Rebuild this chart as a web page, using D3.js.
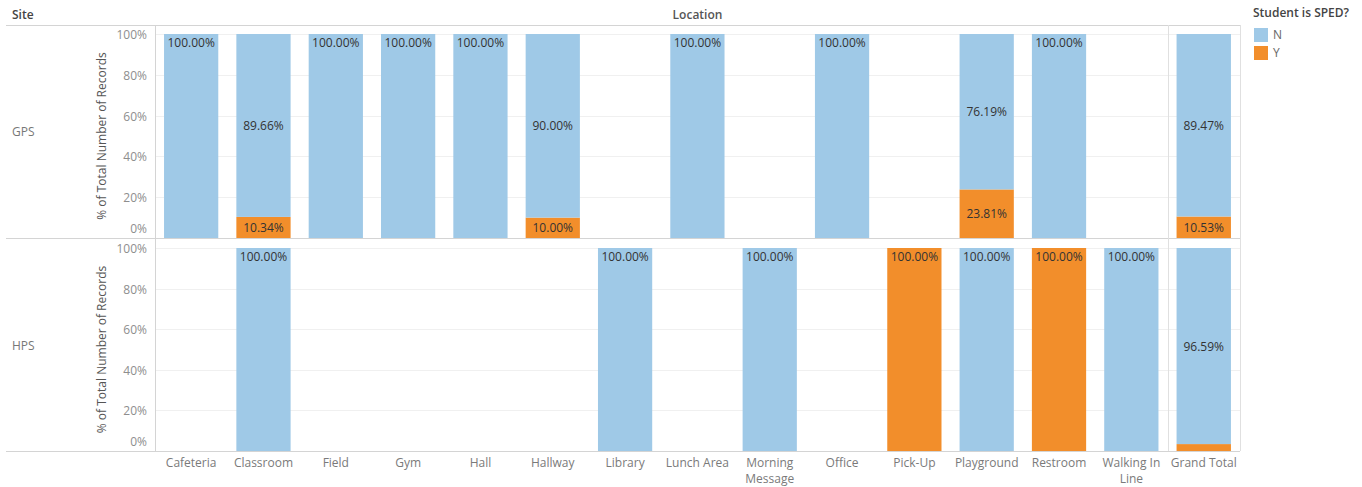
<!DOCTYPE html>
<html>
<head>
<meta charset="utf-8">
<script src="https://cdn.jsdelivr.net/npm/d3@7/dist/d3.min.js"></script>
<style>
  body { margin: 0; background: #fff; }
  svg text { font-family: "Open Sans", "Noto Sans", sans-serif; }
</style>
</head>
<body>
<svg id="chart" width="1362" height="487"></svg>
<script>
// Locations along the x axis, with the grand total column at the end
const locations = ["Cafeteria", "Classroom", "Field", "Gym", "Hall", "Hallway", "Library",
  "Lunch Area", "Morning Message", "Office", "Pick-Up", "Playground", "Restroom", "Walking In Line"];
const totalLabel = "Grand Total";
const sites = ["GPS", "HPS"];
const spedKeys = ["N", "Y"];

// Percent of records per location (null = no records)
const gpsN = [100, 89.66, 100, 100, 100, 90.00, null, 100, null, 100, null, 76.19, 100, null];
const gpsY = [null, 10.34, null, null, null, 10.00, null, null, null, null, null, 23.81, null, null];
const hpsN = [null, 100, null, null, null, null, 100, null, 100, null, null, 100, null, 100];
const hpsY = [null, null, null, null, null, null, null, null, null, null, 100, null, 100, null];
const gpsTotal = { N: 89.47, Y: 10.53 };
const hpsTotal = { N: 96.59, Y: 3.41 };

const yTicks = [0, 20, 40, 60, 80, 100];
const colors = { N: "#9fc9e7", Y: "#f28e2b" };

const svg = d3.select("#chart");
const left = 155, right = 1240, sepX = 1167.5;
const headerY = 25;
const panels = [
  { site: sites[0], top: 34, bottom: 238, N: gpsN, Y: gpsY, total: gpsTotal, lineBottom: 238 },
  { site: sites[1], top: 248, bottom: 451, N: hpsN, Y: hpsY, total: hpsTotal, lineBottom: 451 }
];

const x = d3.scaleBand().domain(locations).range([left, sepX]).paddingInner(0.25).paddingOuter(0.125);
const xTotal = d3.scaleBand().domain([totalLabel]).range([sepX, right]).paddingInner(0.25).paddingOuter(0.125);

// Header texts
svg.append("text").attr("x", 12).attr("y", 19).attr("font-size", 12).attr("font-weight", 600)
  .attr("fill", "#444").text("Site");
svg.append("text").attr("x", (left + right) / 2).attr("y", 19).attr("font-size", 12).attr("font-weight", 600)
  .attr("fill", "#555").attr("text-anchor", "middle").text("Location");

panels.forEach(p => {
  const y = d3.scaleLinear().domain([0, 100]).range([p.bottom, p.top]);
  const g = svg.append("g");

  // gridlines
  g.selectAll("line.grid").data(yTicks.filter(t => t > 0)).join("line")
    .attr("x1", left).attr("x2", right)
    .attr("y1", d => Math.round(y(d)) + 0.5).attr("y2", d => Math.round(y(d)) + 0.5)
    .attr("stroke", "#f0f0f0");

  // tick labels (0% nudged up to stay inside the panel)
  g.selectAll("text.tick").data(yTicks).join("text")
    .attr("x", left - 8)
    .attr("y", d => d === 0 ? y(d) - 5 : y(d) + 5)
    .attr("text-anchor", "end").attr("font-size", 12).attr("fill", "#8e8e8e")
    .text(d => d + "%");

  // axis title
  const mid = (p.top + p.bottom) / 2;
  g.append("text").attr("transform", `translate(106,${mid}) rotate(-90)`)
    .attr("text-anchor", "middle").attr("font-size", 12).attr("fill", "#555")
    .text("% of Total Number of Records");

  // site label
  g.append("text").attr("x", 12).attr("y", mid).attr("font-size", 12).attr("fill", "#777").text(p.site);

  // bar data per location, stacked N on top of Y
  const rows = locations.map((loc, i) => ({ loc, N: p.N[i] || 0, Y: p.Y[i] || 0, band: x }))
    .concat([{ loc: totalLabel, N: p.total.N, Y: p.total.Y, band: xTotal }]);

  rows.forEach(r => {
    const segs = [];
    if (r.Y > 0) segs.push({ key: "Y", y0: 0, y1: r.Y });
    if (r.N > 0) segs.push({ key: "N", y0: r.Y, y1: r.Y + r.N });
    segs.forEach(s => {
      const bx = r.band(r.loc), bw = r.band.bandwidth();
      g.append("rect").attr("x", bx).attr("width", bw)
        .attr("y", y(s.y1)).attr("height", y(s.y0) - y(s.y1))
        .attr("fill", colors[s.key]);
      const v = s.y1 - s.y0;
      if (v < 5) return;
      const ty = v >= 100 ? y(s.y1) + 13 : (y(s.y0) + y(s.y1)) / 2 + 4.5;
      g.append("text").attr("x", bx + bw / 2).attr("y", ty)
        .attr("text-anchor", "middle").attr("font-size", 12).attr("fill", "#333")
        .text(v.toFixed(2) + "%");
    });
  });

  // panel bottom rule
  g.append("line").attr("x1", 6).attr("x2", right).attr("y1", p.lineBottom + 0.5).attr("y2", p.lineBottom + 0.5)
    .attr("stroke", "#d4d4d4");
});

// header rule, axis line, and grand-total separators
svg.append("line").attr("x1", 6).attr("x2", right).attr("y1", headerY + 0.5).attr("y2", headerY + 0.5).attr("stroke", "#d4d4d4");
[left, sepX, right].forEach(xx => {
  svg.append("line").attr("x1", Math.round(xx) + 0.5).attr("x2", Math.round(xx) + 0.5)
    .attr("y1", headerY).attr("y2", 451).attr("stroke", xx === left ? "#d4d4d4" : "#e0e0e0");
});

// x-axis labels, wrapped onto two lines where long
const xLabels = locations.map(l => ({ l, band: x })).concat([{ l: totalLabel, band: xTotal }]);
const wrap = { "Morning Message": ["Morning", "Message"], "Walking In Line": ["Walking In", "Line"] };
xLabels.forEach(d => {
  const lines = wrap[d.l] || [d.l];
  const t = svg.append("text").attr("text-anchor", "middle").attr("font-size", 12).attr("fill", "#7a7a7a");
  lines.forEach((ln, i) => {
    t.append("tspan").attr("x", d.band(d.l) + d.band.bandwidth() / 2).attr("y", 467 + i * 15.5).text(ln);
  });
});

// legend
const lg = svg.append("g").attr("transform", "translate(1253,0)");
lg.append("text").attr("x", 0).attr("y", 17).attr("font-size", 12).attr("font-weight", 600).attr("fill", "#444")
  .text("Student is SPED?");
spedKeys.forEach((k, i) => {
  lg.append("rect").attr("x", 1).attr("y", 28 + i * 18).attr("width", 14).attr("height", 14).attr("fill", colors[k]);
  lg.append("text").attr("x", 20).attr("y", 39 + i * 18).attr("font-size", 12).attr("fill", "#666").text(k);
});
</script>
</body>
</html>
